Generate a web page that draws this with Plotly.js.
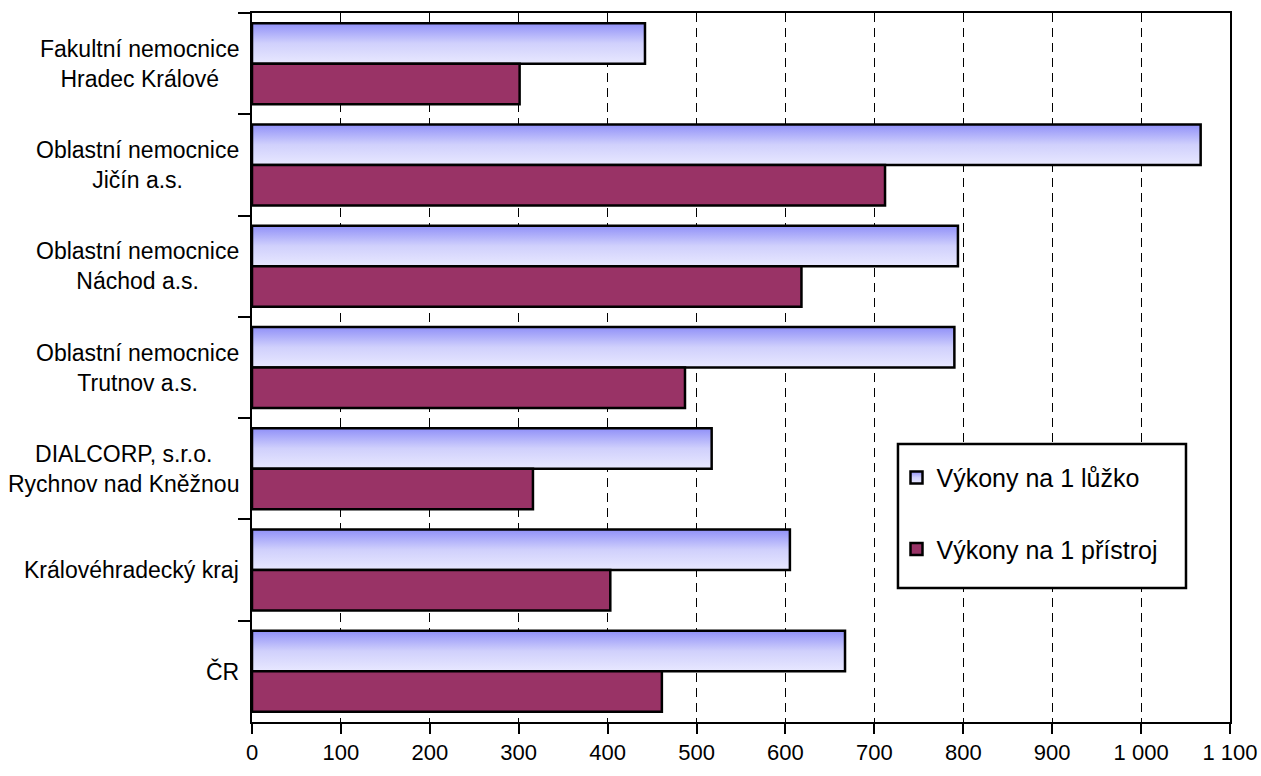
<!DOCTYPE html>
<html>
<head>
<meta charset="utf-8">
<script src="https://cdn.plot.ly/plotly-3.0.1.min.js"></script>
<style>
html,body{margin:0;padding:0;background:#fff;}
#chart{width:1261px;height:776px;}
</style>
</head>
<body>
<svg width="0" height="0" style="position:absolute">
  <defs>
    <linearGradient id="blueGrad" x1="0" y1="0" x2="0" y2="1">
      <stop offset="0" stop-color="#9090F8"/>
      <stop offset="0.5" stop-color="#D0D0FC"/>
      <stop offset="1" stop-color="#E8E8FF"/>
    </linearGradient>
  </defs>
</svg>
<div id="chart"></div>
<script>
const categories = [
  "Fakultní nemocnice<br>Hradec Králové",
  "Oblastní nemocnice<br>Jičín a.s.",
  "Oblastní nemocnice<br>Náchod a.s.",
  "Oblastní nemocnice<br>Trutnov a.s.",
  "DIALCORP, s.r.o.<br>Rychnov nad Kněžnou",
  "Královéhradecký kraj",
  "ČR"
];
const perBed = [442, 1067, 794, 790, 517, 605, 667];
const perDevice = [301, 712, 618, 487, 316, 403, 461];
const seriesNames = ["Výkony na 1 lůžko", "Výkony na 1 přístroj"];
const xTickVals = [0, 100, 200, 300, 400, 500, 600, 700, 800, 900, 1000, 1100];
const xTickLabels = ["0", "100", "200", "300", "400", "500", "600", "700", "800", "900", "1 000", "1 100"];

const FONT = '"Liberation Sans", Arial, sans-serif';

const traces = [
  {type:'bar', orientation:'h', y:categories, x:perBed, name:seriesNames[0],
   legendgroup:'a',
   marker:{color:'#C8C8FC', line:{color:'#000', width:2.5}}, hoverinfo:'x'},
  {type:'bar', orientation:'h', y:categories, x:perDevice, name:seriesNames[1],
   legendgroup:'b',
   marker:{color:'#993366', line:{color:'#000', width:2.5}}, hoverinfo:'x'}
];

const annotations = categories.map(c => ({
  xref:'paper', yref:'y', x:-0.011, y:c, xanchor:'right', yanchor:'middle',
  text:c, showarrow:false, align:'center',
  font:{family:FONT, size:23, color:'#000'}
}));

const layout = {
  width:1261, height:776,
  margin:{l:252, r:31, t:13, b:54, pad:0},
  paper_bgcolor:'#fff', plot_bgcolor:'#fff',
  font:{family:FONT, size:22, color:'#000'},
  barmode:'group', bargap:0.2, bargroupgap:0,
  showlegend:true,
  legend:{x:0.659, y:0.377, xanchor:'left', yanchor:'top',
    borderwidth:0, bgcolor:'rgba(0,0,0,0)',
    font:{family:FONT, size:25, color:'#000'},
    tracegroupgap:36, itemwidth:30},
  shapes:[{type:'rect', xref:'paper', yref:'paper', x0:0.6605, x1:0.955, y0:0.189, y1:0.392,
    line:{color:'#000', width:2.5}, fillcolor:'#fff', layer:'above'}],
  xaxis:{range:[0,1100], tickmode:'array', tickvals:xTickVals, ticktext:xTickLabels,
    showgrid:true, gridcolor:'#000', gridwidth:1, griddash:'9px,6px',
    showline:true, linecolor:'#000', linewidth:2, mirror:true,
    ticks:'outside', ticklen:10, tickwidth:2, tickcolor:'#000',
    ticklabeloverflow:'allow',
    zeroline:false, fixedrange:true,
    tickfont:{family:FONT, size:22, color:'#000'}},
  yaxis:{autorange:'reversed', type:'category',
    showgrid:false, showline:true, linecolor:'#000', linewidth:2, mirror:true,
    ticks:'outside', ticklen:12, tickwidth:2, tickcolor:'#000',
    tickson:'boundaries', showticklabels:false, zeroline:false, fixedrange:true},
  annotations:annotations
};

Plotly.newPlot('chart', traces, layout, {staticPlot:true, displayModeBar:false}).then(gd => {
  const bars = gd.querySelectorAll('.barlayer .trace');
  if (bars.length) {
    bars[0].querySelectorAll('path').forEach(p => { p.style.fill = 'url(#blueGrad)'; });
  }
  const lp = gd.querySelectorAll('.legend .traces');
  if (lp.length) {
    lp[0].querySelectorAll('.legendpoints path').forEach(p => { p.style.fill = 'url(#blueGrad)'; });
  }
});
</script>
</body>
</html>
